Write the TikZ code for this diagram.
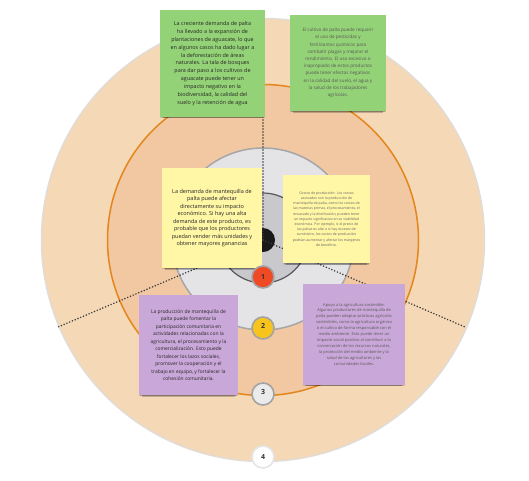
\documentclass[tikz,border=0pt]{standalone}
\usepackage{fontspec}
\setmainfont{Open Sans}
\usetikzlibrary{shadows}
\definecolor{outerfill}{HTML}{F5D8B5}
\definecolor{outerline}{HTML}{E2DCD6}
\definecolor{midfill}{HTML}{F1C8A2}
\definecolor{orangeline}{HTML}{E3861C}
\definecolor{grayfill}{HTML}{E4E4E6}
\definecolor{grayline}{HTML}{A6A6A8}
\definecolor{innerfill}{HTML}{C9C9CD}
\definecolor{innerline}{HTML}{58585C}
\definecolor{notegreen}{HTML}{93D276}
\definecolor{noteyellow}{HTML}{FFF6A6}
\definecolor{notepurple}{HTML}{CAA7D9}
\definecolor{dotcol}{HTML}{3A3A3A}
\definecolor{badgeline}{HTML}{A3A3A3}
\definecolor{bred}{HTML}{EF4A24}
\definecolor{byellow}{HTML}{F6C41D}
\definecolor{bgray}{HTML}{EBEBEB}
\tikzset{
  ring/.style={circle, inner sep=0pt},
  notebox/.style={rectangle, inner sep=0pt, align=center,
    drop shadow={shadow xshift=0pt, shadow yshift=-5pt, shadow scale=0.94, opacity=0.22, fill=black},
    drop shadow={shadow xshift=0pt, shadow yshift=-3pt, shadow scale=0.97, opacity=0.18, fill=black},
    drop shadow={shadow xshift=0pt, shadow yshift=-1.5pt, shadow scale=0.995, opacity=0.12, fill=black}},
  dotline/.style={draw=dotcol, line width=1.7pt, line cap=round, dash pattern=on 0pt off 3pt},
  badge/.style={circle, draw=badgeline, line width=1.6pt, minimum size=22pt, inner sep=0pt,
    font=\fontsize{7}{7}\selectfont\bfseries, text=black!80},
}
\begin{document}
\begin{tikzpicture}[x=1pt,y=-1pt]
\useasboundingbox[fill=white] (0,0) rectangle (529,480);
% rings
\node[ring, fill=outerfill, draw=outerline, line width=1.5pt, minimum size=443pt] (outer) at (263,240) {};
\node[ring, fill=midfill, draw=orangeline, line width=1.5pt, minimum size=311pt] (mid) at (263,240) {};
\node[ring, fill=grayfill, draw=grayline, line width=1.5pt, minimum size=182pt] (grayc) at (263,239) {};
\node[ring, fill=innerfill, draw=innerline, line width=1.2pt, minimum size=90pt] (inner) at (263,238) {};
\node[ring, fill=black!90, minimum size=24pt] (core) at (263,240) {};
% dotted radial lines
\coordinate (ptop) at (263,18);
\coordinate (pleft) at (58,327);
\coordinate (pright) at (465,327);
\draw[dotline] (core.center) -- (ptop);
\draw[dotline] (core.center) -- (pleft);
\draw[dotline] (core.center) -- (pright);
% notes
\node[notebox, fill=notegreen, minimum width=105pt, minimum height=107pt,
  font=\fontsize{5.4}{7.9}\selectfont, text=black!85] (g1) at (212.5,63.5) {%
La creciente demanda de palta\\
ha llevado a la expansión de\\
plantaciones de aguacate, lo que\\
en algunos casos ha dado lugar a\\
la deforestación de áreas\\
naturales. La tala de bosques\\
para dar paso a los cultivos de\\
aguacate puede tener un\\
impacto negativo en la\\
biodiversidad, la calidad del\\
suelo y la retención de agua};
\node[notebox, fill=notegreen, minimum width=96pt, minimum height=96pt,
  font=\fontsize{4.6}{7.2}\selectfont, text=black!65] (g2) at (338,63) {%
El cultivo de palta puede requerir\\
el uso de pesticidas y\\
fertilizantes químicos para\\
combatir plagas y mejorar el\\
rendimiento. El uso excesivo o\\
inapropiado de estos productos\\
puede tener efectos negativos\\
en la calidad del suelo, el agua y\\
la salud de los trabajadores\\
agrícolas.};
\node[notebox, fill=noteyellow, minimum width=100pt, minimum height=100pt,
  font=\fontsize{5.5}{7.5}\selectfont, text=black!85] (y1) at (212,218) {%
La demanda de mantequilla de\\
palta puede afectar\\
directamente su impacto\\
económico. Si hay una alta\\
demanda de este producto, es\\
probable que los productores\\
puedan vender más unidades y\\
obtener mayores ganancias};
\node[notebox, fill=noteyellow, minimum width=87pt, minimum height=88pt,
  font=\fontsize{3.5}{5.2}\selectfont, text=black!60] (y2) at (326.5,219) {%
Costos de producción: Los costos\\
asociados con la producción de\\
mantequilla de palta, como los costos de\\
las materias primas, el procesamiento, el\\
envasado y la distribución, pueden tener\\
un impacto significativo en su viabilidad\\
económica. Por ejemplo, si el precio de\\
las paltas es alto o si hay escasez de\\
suministro, los costos de producción\\
podrían aumentar y afectar los márgenes\\
de beneficio.};
\node[notebox, fill=notepurple, minimum width=99pt, minimum height=100pt,
  font=\fontsize{4.9}{7.5}\selectfont, text=black!85] (p1) at (188.5,345) {%
La producción de mantequilla de\\
palta puede fomentar la\\
participación comunitaria en\\
actividades relacionadas con la\\
agricultura, el procesamiento y la\\
comercialización. Esto puede\\
fortalecer los lazos sociales,\\
promover la cooperación y el\\
trabajo en equipo, y fortalecer la\\
cohesión comunitaria.};
\node[notebox, fill=notepurple, minimum width=102pt, minimum height=101pt,
  font=\fontsize{4.0}{5.9}\selectfont, text=black!65] (p2) at (354,334) {%
Apoyo a la agricultura sostenible:\\
Algunos productores de mantequilla de\\
palta pueden adoptar prácticas agrícolas\\
sostenibles, como la agricultura orgánica\\
o el cultivo de forma responsable con el\\
medio ambiente. Esto puede tener un\\
impacto social positivo al contribuir a la\\
conservación de los recursos naturales,\\
la protección del medio ambiente y la\\
salud de los agricultores y las\\
comunidades locales.};
% badges
\node[badge, fill=bred] (b1) at (263,277) {1};
\node[badge, fill=byellow] (b2) at (263,328) {\raisebox{4pt}{2}};
\node[badge, fill=bgray] (b3) at (263,394) {\raisebox{5pt}{3}};
\node[badge, fill=white, draw=white!90!black] (b4) at (263,457) {4};
\end{tikzpicture}
\end{document}
